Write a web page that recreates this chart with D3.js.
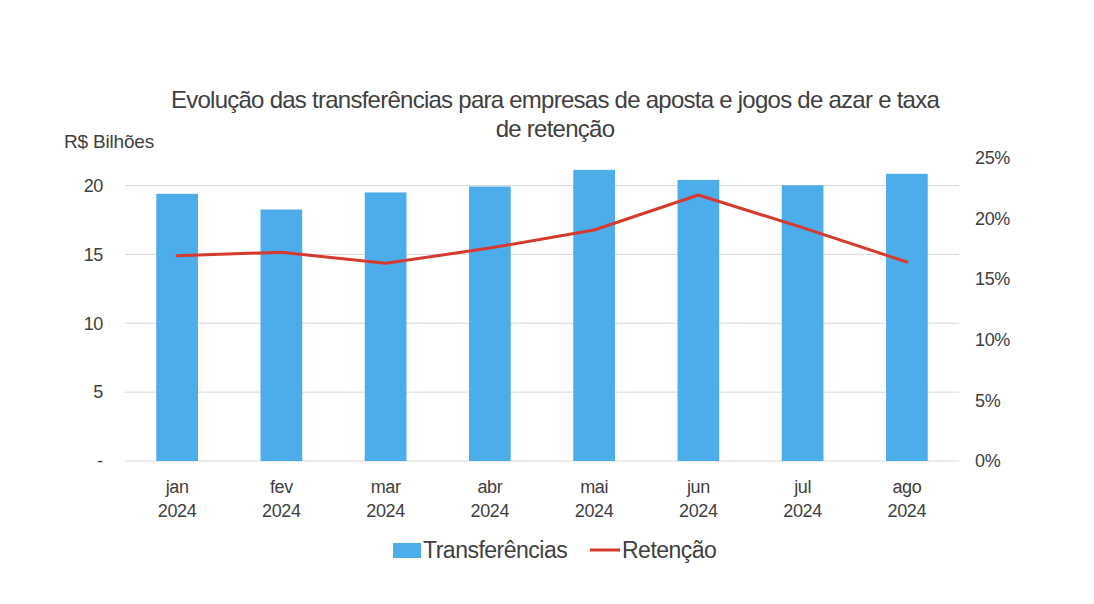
<!DOCTYPE html>
<html><head><meta charset="utf-8">
<script src="https://cdn.jsdelivr.net/npm/d3@7"></script>
<style>
body{margin:0;background:#fff;}
text{font-family:"Liberation Sans",Arial,sans-serif;fill:#404040;}
</style></head>
<body><svg id="c" width="1094" height="604"></svg>
<script>
const months = ["jan","fev","mar","abr","mai","jun","jul","ago"];
const year = "2024";
const transferencias = [19.4, 18.26, 19.5, 19.93, 21.14, 20.41, 20.02, 20.85];
const retencao = [16.94, 17.22, 16.31, 17.57, 19.06, 21.95, 19.25, 16.42];
const leftTicks = [0,5,10,15,20];
const leftTickLabels = ["-","5","10","15","20"];
const rightTicks = [0,5,10,15,20,25];
const title = ["Evolução das transferências para empresas de aposta e jogos de azar e taxa","de retenção"];

const svg = d3.select("#c");
const L=125, R=959, T=158, B=461;
const x = d3.scaleBand().domain(months).range([L,R]).paddingInner(0.6).paddingOuter(0.3);
const yL = d3.scaleLinear().domain([0,22]).range([B,T]);
const yR = d3.scaleLinear().domain([0,25]).range([B,T]);

// gridlines
svg.append("g").selectAll("line").data(leftTicks).join("line")
  .attr("x1",L).attr("x2",R).attr("y1",d=>yL(d)).attr("y2",d=>yL(d))
  .attr("stroke","#d9d9d9").attr("stroke-width",1);

// left axis labels
const gl = svg.append("g").attr("transform",`translate(${L},0)`)
  .call(d3.axisLeft(yL).tickValues(leftTicks).tickFormat((d,i)=>leftTickLabels[i]).tickSize(0).tickPadding(22));
gl.select(".domain").remove();
gl.selectAll("text").style("font-size","18px").style("letter-spacing","-0.02em").attr("fill","#404040");

// right axis labels
const gr = svg.append("g").attr("transform",`translate(${R},0)`)
  .call(d3.axisRight(yR).tickValues(rightTicks).tickFormat(d=>d+"%").tickSize(0).tickPadding(16));
gr.select(".domain").remove();
gr.selectAll("text").style("font-size","18px").style("letter-spacing","-0.02em").attr("fill","#404040");

// bars
svg.append("g").selectAll("rect").data(transferencias).join("rect")
  .attr("x",(d,i)=>x(months[i])).attr("width",x.bandwidth())
  .attr("y",d=>yL(d)).attr("height",d=>B-yL(d)).attr("fill","#4dacea");

// line
const line = d3.line().x((d,i)=>x(months[i])+x.bandwidth()/2).y(d=>yR(d));
svg.append("path").datum(retencao).attr("d",line).attr("fill","none")
  .attr("stroke","#d63a2f").attr("stroke-width",3).attr("stroke-linejoin","round").attr("stroke-linecap","round");

// x labels
const xl = svg.append("g").selectAll("text").data(months).join("text")
  .attr("x",d=>x(d)+x.bandwidth()/2).attr("text-anchor","middle")
  .style("font-size","18px").style("letter-spacing","-0.02em");
xl.append("tspan").attr("x",d=>x(d)+x.bandwidth()/2).attr("y",493).text(d=>d);
xl.append("tspan").attr("x",d=>x(d)+x.bandwidth()/2).attr("y",517).text(year);

// title
svg.append("g").selectAll("text").data(title).join("text")
  .attr("x",555).attr("y",(d,i)=>108+i*29).attr("text-anchor","middle")
  .style("font-size","24px").style("letter-spacing","-0.031em").text(d=>d);

// axis title
svg.append("text").attr("x",64).attr("y",148).style("font-size","19px").style("letter-spacing","-0.01em").text("R$ Bilhões");

// legend
const lg = svg.append("g");
lg.append("rect").attr("x",393).attr("y",543).attr("width",28).attr("height",15).attr("fill","#4dacea");
lg.append("text").attr("x",423).attr("y",558).style("font-size","23px").style("letter-spacing","-0.022em").text("Transferências");
lg.append("line").attr("x1",590).attr("x2",620).attr("y1",550).attr("y2",550).attr("stroke","#d63a2f").attr("stroke-width",3);
lg.append("text").attr("x",622).attr("y",558).style("font-size","23px").style("letter-spacing","-0.022em").text("Retenção");
</script></body></html>
